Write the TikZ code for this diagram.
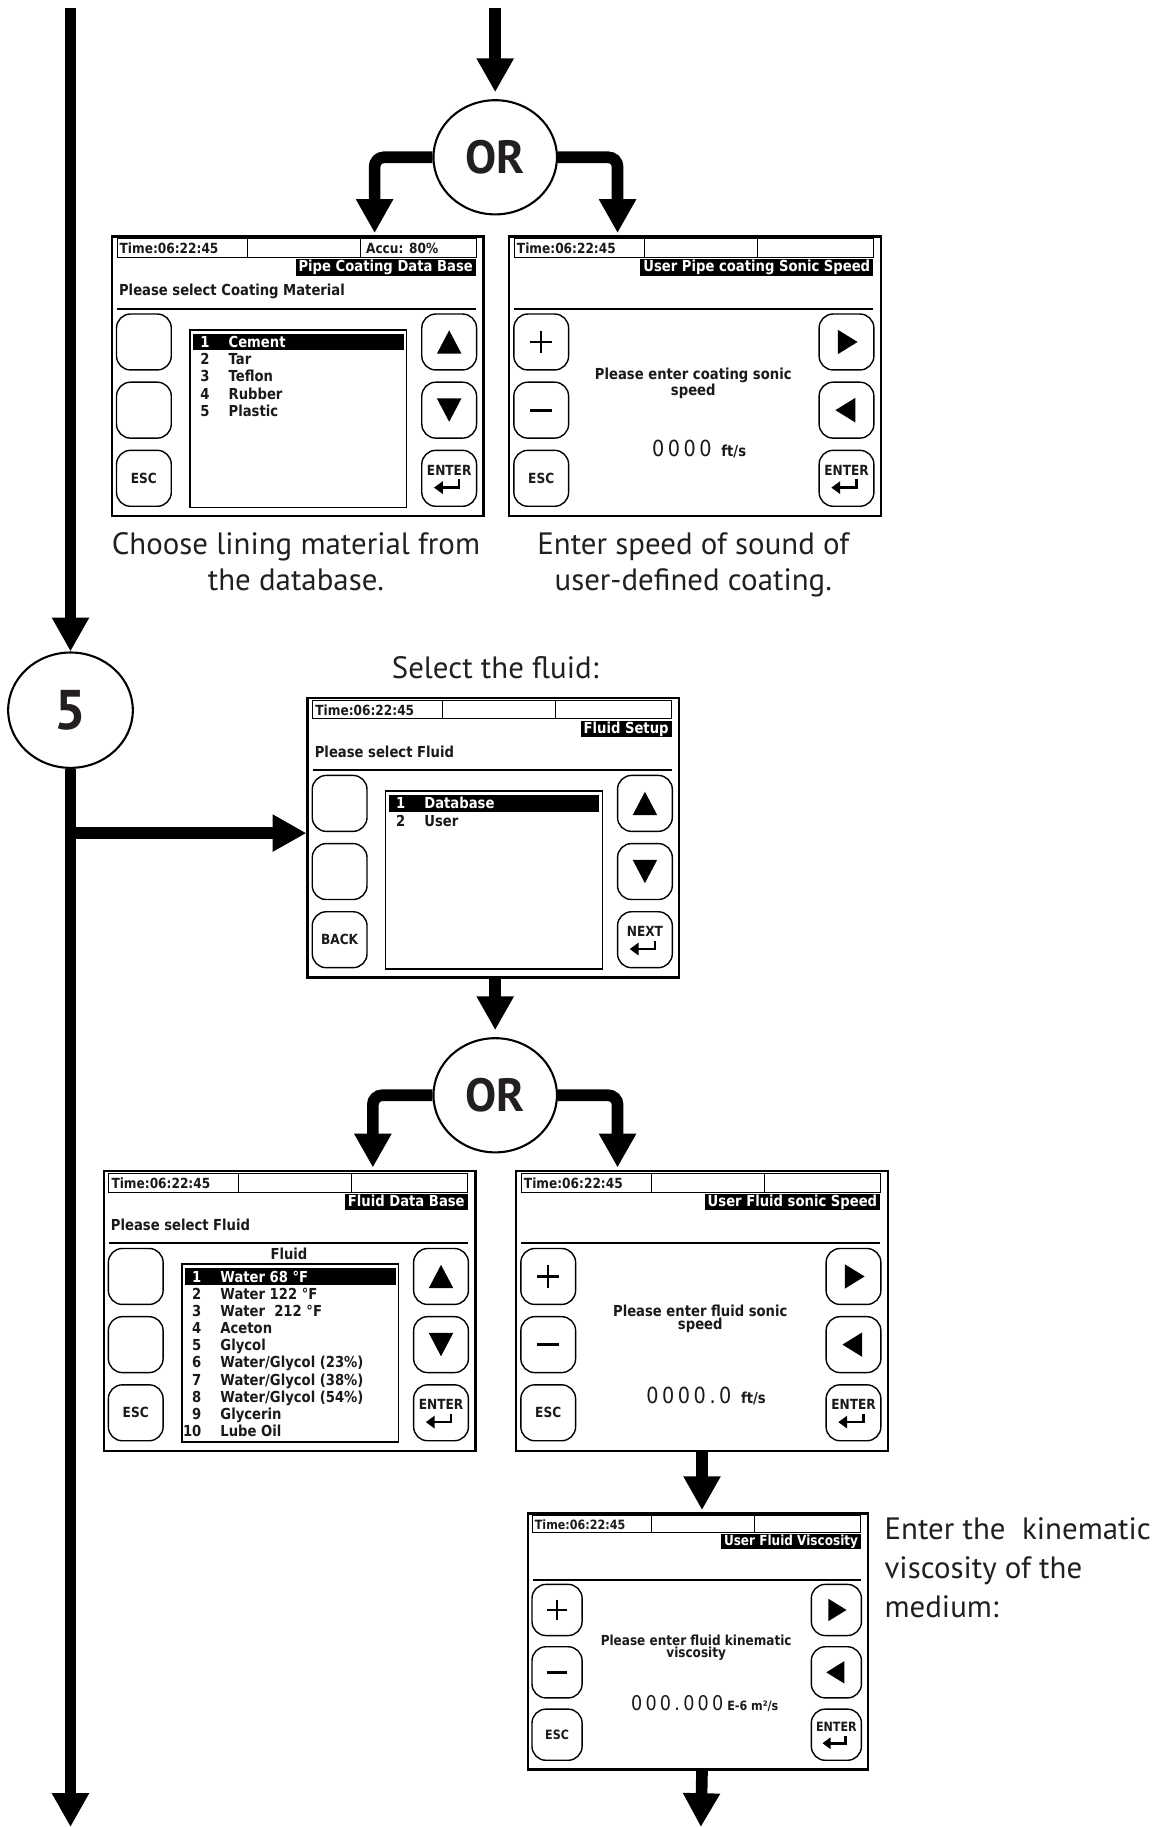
\documentclass[tikz,border=0pt]{standalone}
\usepackage{fontspec}
\setmainfont{PT Sans}
\newfontfamily\lcdf[FakeStretch=0.87]{DejaVu Sans}
\newfontfamily\lcdv[FakeStretch=0.87,LetterSpace=16]{DejaVu Sans}
\usetikzlibrary{arrows.meta,shapes.geometric}
\definecolor{ink}{HTML}{231F20}
\definecolor{lcdink}{HTML}{1A1A1A}
\tikzset{
  x=1pt,y=-1pt,
  flow/.style={draw=black,line width=10pt,-{Triangle[length=29pt,width=30pt]},shorten >=2pt},
  ornode/.style={ellipse,draw=black,line width=1.8pt,fill=white,minimum width=106pt,minimum height=98pt,inner sep=0pt,text=ink,font=\bfseries\fontsize{40}{40}\selectfont},
  captext/.style={text=ink,font=\fontsize{26.5}{31}\selectfont,inner sep=0pt},
  lcdframe/.style={draw=black,line width=2pt,fill=white,minimum width=319pt,minimum height=240pt,inner sep=0pt},
  lcd/.style={inner sep=0pt,text=lcdink,font=\lcdf\bfseries\fontsize{13}{10}\selectfont,text height=9.5pt,text depth=0pt},
  lcdreg/.style={lcd,font=\lcdf\bfseries\fontsize{12}{10}\selectfont},
  lcdc/.style={inner sep=0pt,text=lcdink,font=\lcdf\bfseries\fontsize{13}{10}\selectfont,align=center},
  lcdval/.style={inner sep=0pt,text=lcdink},
  titlebox/.style={lcd,fill=black,text=white,inner xsep=2.5pt,inner ysep=1pt,text depth=2.5pt},
  btn/.style={draw=black,line width=1.2pt,rounded corners=12pt,minimum width=47pt,minimum height=48pt,inner sep=0pt,text=lcdink,font=\lcdf\bfseries\fontsize{12}{12}\selectfont},
}
\newcommand\lcdscreen[6]{%
  \begin{scope}[shift={(#2,#3)},scale=#4,transform shape]
    \node[lcdframe,anchor=north west] (#1) at (0,0) {};
    \draw[line width=0.8pt] (5.5,3) rectangle (313.5,19) (117,3) -- (117,19) (214,3) -- (214,19);
    \node[lcdreg,anchor=west] at (7.5,11) {Time:06:22:45};
    \node[titlebox,anchor=north east] at (313.5,20.5) {#5};
    \draw[line width=1.6pt] (5.5,63) -- (313.5,63);
    #6
  \end{scope}}
\newcommand\leftkeys[1]{%
  \node[btn] at (28.5,91.5) {};
  \node[btn] at (28.5,150) {};
  \node[btn] at (28.5,208.5) {#1};}
\newcommand\pmkeys{%
  \leftkeys{ESC}%
  \draw[line width=2pt] (19,91.5) -- (38,91.5) (28.5,82) -- (28.5,101);
  \draw[line width=2.4pt] (19,150) -- (38,150);}
\newcommand\enterkey[1]{%
  \node[btn] at (290.5,208.5) {};
  \node[lcd,font=\lcdf\bfseries\fontsize{12}{12}\selectfont] at (290.5,201) {#1};
  \draw[line width=2.2pt] (299,209.5) -- (299,216.5) -- (284,216.5);
  \fill (277.5,216.5) -- (285,211) -- (285,222) -- cycle;}
\newcommand\updownkeys{%
  \node[btn] at (290.5,91.5) {};
  \node[btn] at (290.5,150) {};
  \fill (280,101.5) -- (301,101.5) -- (290.5,81.5) -- cycle;
  \fill (280,140) -- (301,140) -- (290.5,160) -- cycle;}
\newcommand\lrkeys{%
  \node[btn] at (290.5,91.5) {};
  \node[btn] at (290.5,150) {};
  \fill (283,81) -- (283,102) -- (300,91.5) -- cycle;
  \fill (298,139.5) -- (298,160.5) -- (281,150) -- cycle;}
\newcommand\listframe{%
  \draw[line width=1.4pt] (68,81) rectangle (254,233.5);}
\newcommand\hlrow[2]{%
  \fill[black] (70.5,84.5) rectangle (251.5,98.5);
  \node[lcd,text=white,anchor=east] at (85,91.5) {#1};
  \node[lcd,text=white,anchor=west] at (101,91.5) {#2};}
\newcommand\lrow[3]{%
  \node[lcd,anchor=east] at (85,#1) {#2};
  \node[lcd,anchor=west] at (101,#1) {#3};}
\begin{document}
\begin{tikzpicture}
\useasboundingbox (0,0) rectangle (1000,1568);
% screens
\lcdscreen{s1}{95}{202}{1}{Pipe Coating Data Base}{%
  \node[lcdreg,anchor=west] at (219,11) {Accu: 80\%};
  \node[lcd,anchor=west] at (7,47) {Please select Coating Material};
  \leftkeys{ESC}\updownkeys\enterkey{ENTER}
  \listframe\hlrow{1}{Cement}
  \lrow{106.25}{2}{Tar}\lrow{121}{3}{Teflon}\lrow{135.75}{4}{Rubber}\lrow{150.5}{5}{Plastic}}
\lcdscreen{s2}{436}{202}{1}{User Pipe coating Sonic Speed}{%
  \pmkeys\lrkeys\enterkey{ENTER}
  \node[lcdc] at (159,127) {Please enter coating sonic\\speed};
  \node[lcdval] at (164,183) {\lcdv\fontsize{19}{19}\selectfont 0000 \lcdf\bfseries\fontsize{13}{13}\selectfont ft/s};}
\lcdscreen{s3}{263}{598}{1}{Fluid Setup}{%
  \node[lcd,anchor=west] at (7,47) {Please select Fluid};
  \leftkeys{BACK}\updownkeys\enterkey{NEXT}
  \listframe\hlrow{1}{Database}\lrow{106.25}{2}{User}}
\lcdscreen{s4}{88}{1004}{1}{Fluid Data Base}{%
  \node[lcd,anchor=west] at (7,47) {Please select Fluid};
  \node[lcd] at (160,72) {Fluid};
  \leftkeys{ESC}\updownkeys\enterkey{ENTER}
  \listframe\hlrow{1}{Water 68 °F}
  \lrow{106.25}{2}{Water 122 °F}\lrow{121}{3}{Water\ \ 212 °F}\lrow{135.75}{4}{Aceton}
  \lrow{150.5}{5}{Glycol}\lrow{165.25}{6}{Water/Glycol (23\%)}\lrow{180}{7}{Water/Glycol (38\%)}
  \lrow{194.75}{8}{Water/Glycol (54\%)}\lrow{209.5}{9}{Glycerin}\lrow{224.25}{10}{Lube Oil}}
\lcdscreen{s5}{442}{1004}{1}{User Fluid sonic Speed}{%
  \pmkeys\lrkeys\enterkey{ENTER}
  \node[lcdc] at (159,128) {Please enter fluid sonic\\speed};
  \node[lcdval] at (164,194) {\lcdv\fontsize{19}{19}\selectfont 0000.0 \lcdf\bfseries\fontsize{13}{13}\selectfont ft/s};}
\lcdscreen{s6}{452}{1298}{0.915}{User Fluid Viscosity}{%
  \pmkeys\lrkeys\enterkey{ENTER}
  \node[lcdc] at (159,127) {Please enter fluid kinematic\\viscosity};
  \node[lcdval] at (167,179) {\lcdv\fontsize{19}{19}\selectfont 000.000\lcdf\bfseries\fontsize{12}{12}\selectfont\ E-6 m²/s};}
% captions
\node[captext,align=center,anchor=base] (cap1) at (254,507) {Choose lining material from\\the database.};
\node[captext,align=center,anchor=base] (cap2) at (595,507) {Enter speed of sound of\\user-defined coating.};
\node[captext,anchor=base] (cap3) at (425,582) {Select the fluid:};
\node[captext,font=\fontsize{26.5}{33.5}\selectfont,align=left,anchor=base west] (cap4) at (759,1388) {Enter the\ \ kinematic\\viscosity of the\\medium:};
% decision nodes and flow
\coordinate (ttop) at (425,7);
\node[ornode] (or1) at (425,135) {OR};
\draw[flow,shorten >=6pt] (ttop) -- (or1.north);
\draw[flow,rounded corners=8pt] (or1.west) -| ([xshift=-94.5pt]s1.north east);
\draw[flow,rounded corners=8pt] (or1.east) -| ([xshift=94pt]s2.north west);
\coordinate (ltop) at (60.5,7);
\coordinate (lbot) at (60.5,1568);
\node[ornode,font=\bfseries\fontsize{48}{48}\selectfont,minimum width=107pt,minimum height=99pt] (c5) at (60.5,609.5) {5};
\draw[flow,shorten >=0pt] (ltop) -- (c5.north);
\draw[flow,shorten >=0pt] (c5.south) -- (lbot);
\coordinate (br) at ([yshift=4pt]s3.west);
\draw[flow,shorten >=0pt] (c5.south |- br) -- (br);
\node[ornode] (or2) at (425,940) {OR};
\draw[flow,shorten >=6pt] (s3.south -| or2.north) -- (or2.north);
\draw[flow,rounded corners=8pt] (or2.west) -| ([xshift=-89pt]s4.north east);
\draw[flow,rounded corners=8pt] (or2.east) -| ([xshift=88pt]s5.north west);
\draw[flow] (s5.south) -- (s5.south |- s6.north);
\coordinate (bot2) at (601.5,1568);
\draw[flow,shorten >=0pt] (s5.south |- s6.south) -- (bot2);
\end{tikzpicture}
\end{document}
